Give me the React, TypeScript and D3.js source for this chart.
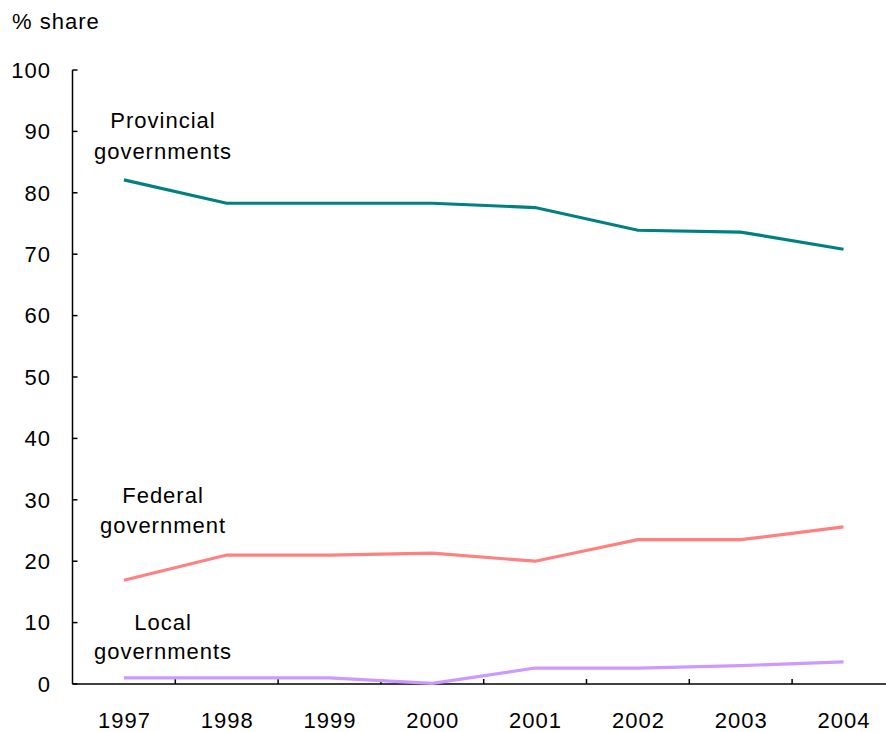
import React from "react";
import * as d3 from "d3";

const years = ["1997", "1998", "1999", "2000", "2001", "2002", "2003", "2004"];
const provincial = [82.1, 78.3, 78.3, 78.3, 77.6, 73.9, 73.6, 70.8];
const federal = [16.9, 21.0, 21.0, 21.3, 20.0, 23.5, 23.5, 25.6];
const local = [1.0, 1.0, 1.0, 0.1, 2.6, 2.6, 3.0, 3.6];
const yTicks = [0, 10, 20, 30, 40, 50, 60, 70, 80, 90, 100];

const seriesList = [
  { name: "Provincial", values: provincial, color: "#008080", label: ["Provincial", "governments"], ly: [120, 151] },
  { name: "Federal", values: federal, color: "#ff8080", label: ["Federal", "government"], ly: [495, 525] },
  { name: "Local", values: local, color: "#cc99ff", label: ["Local", "governments"], ly: [622, 651] },
];

export default function App() {
  const W = 886, H = 732;
  const x0 = 72.5;
  const step = 102.8;
  const x = d3.scaleBand<string>().domain(years).range([x0, x0 + step * years.length]);
  const y = d3.scaleLinear().domain([0, 100]).range([684, 70]);
  const cx = (i: number) => (x(years[i]) as number) + x.bandwidth() / 2;
  const line = d3
    .line<number>()
    .x((_, i) => cx(i))
    .y((d) => y(d));
  const font = "Arial, 'Liberation Sans', sans-serif";
  const fs = 22;
  const ls = 1;
  const tp = { fontFamily: font, fontSize: fs, letterSpacing: ls, fill: "#000" };
  return (
    <svg width={W} height={H} style={{ position: "absolute", left: 0, top: 0, background: "#fff" }}>
      <text x={12} y={29} {...tp}>% share</text>
      {/* y axis */}
      <line x1={x0} x2={x0} y1={y(100)} y2={y(0)} stroke="#000" strokeWidth={1.5} />
      {yTicks.map((t) => (
        <g key={t}>
          <line x1={x0} x2={x0 + 5} y1={y(t)} y2={y(t)} stroke="#000" strokeWidth={1.5} />
          <text x={51} y={y(t)} dy="0.35em" textAnchor="end" {...tp}>{t}</text>
        </g>
      ))}
      {/* x axis */}
      <line x1={x0} x2={W} y1={y(0)} y2={y(0)} stroke="#000" strokeWidth={1.5} />
      {years.map((yr, i) => (
        <g key={yr}>
          {i > 0 && (
            <line x1={x(yr)} x2={x(yr)} y1={y(0)} y2={y(0) - 5} stroke="#000" strokeWidth={1.5} />
          )}
          <text x={cx(i) + 0.5} y={720} dy="0.35em" textAnchor="middle" {...tp}>{yr}</text>
        </g>
      ))}
      {seriesList.map((s) => (
        <g key={s.name}>
          <path d={line(s.values) || ""} fill="none" stroke={s.color} strokeWidth={3.2} />
          {s.label.map((l, j) => (
            <text key={j} x={163} y={s.ly[j]} dy="0.35em" textAnchor="middle" {...tp}>{l}</text>
          ))}
        </g>
      ))}
    </svg>
  );
}
